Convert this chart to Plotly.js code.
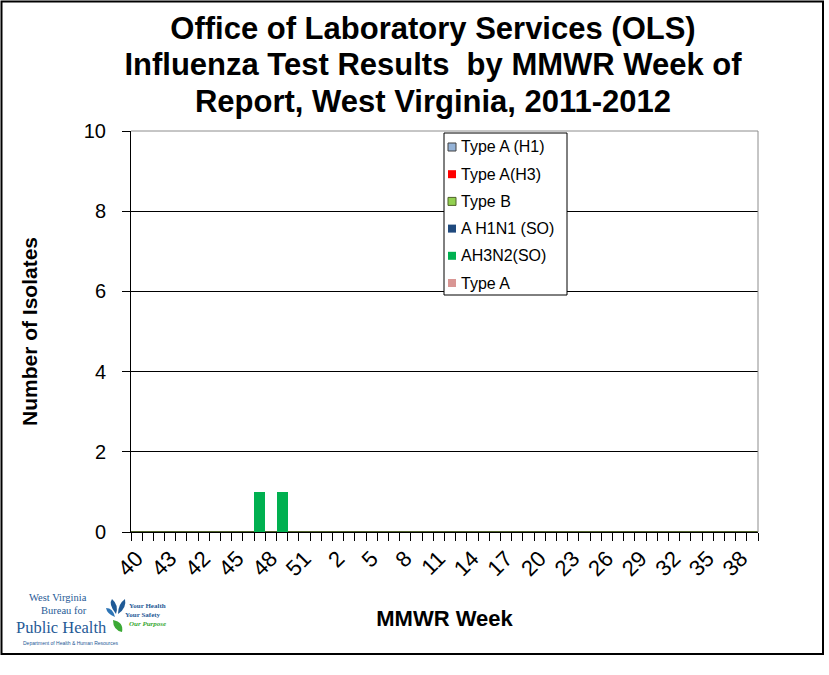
<!DOCTYPE html>
<html>
<head>
<meta charset="utf-8">
<script src="https://cdn.plot.ly/plotly-3.0.1.min.js"></script>
<style>html,body{margin:0;padding:0;background:#fff;}#chart{width:829px;height:675px;}</style>
</head>
<body>
<div id="chart"></div>
<script>
// MMWR week labels, in the order of the category axis
const weeks = [40,41,42,43,40,41,42,43,44,45,46,47,48,49,50,51,52,
  1,2,3,4,5,6,7,8,9,10,11,12,13,14,15,16,17,18,19,20,21,22,23,24,25,26,27,28,29,30,31,32,33,34,35,36,37,38,39];

const seriesNames = ["Type A (H1)", "Type A(H3)", "Type B", "A H1N1 (SO)", "AH3N2(SO)", "Type A"];

const typeA_H1 = [0,0,0,0,0,0,0,0,0,0,0,0,0,0,0,0,0,0,0,0,0,0,0,0,0,0,0,0,0,0,0,0,0,0,0,0,0,0,0,0,0,0,0,0,0,0,0,0,0,0,0,0,0,0,0,0];
const typeA_H3 = [0,0,0,0,0,0,0,0,0,0,0,0,0,0,0,0,0,0,0,0,0,0,0,0,0,0,0,0,0,0,0,0,0,0,0,0,0,0,0,0,0,0,0,0,0,0,0,0,0,0,0,0,0,0,0,0];
const typeB    = [0,0,0,0,0,0,0,0,0,0,0,0,0,0,0,0,0,0,0,0,0,0,0,0,0,0,0,0,0,0,0,0,0,0,0,0,0,0,0,0,0,0,0,0,0,0,0,0,0,0,0,0,0,0,0,0];
const aH1N1_SO = [0,0,0,0,0,0,0,0,0,0,0,0,0,0,0,0,0,0,0,0,0,0,0,0,0,0,0,0,0,0,0,0,0,0,0,0,0,0,0,0,0,0,0,0,0,0,0,0,0,0,0,0,0,0,0,0];
const aH3N2_SO = [0,0,0,0,0,0,0,0,0,0,0,1,0,1,0,0,0,0,0,0,0,0,0,0,0,0,0,0,0,0,0,0,0,0,0,0,0,0,0,0,0,0,0,0,0,0,0,0,0,0,0,0,0,0,0,0];
const typeA    = [0,0,0,0,0,0,0,0,0,0,0,0,0,0,0,0,0,0,0,0,0,0,0,0,0,0,0,0,0,0,0,0,0,0,0,0,0,0,0,0,0,0,0,0,0,0,0,0,0,0,0,0,0,0,0,0];

const seriesValues = [typeA_H1, typeA_H3, typeB, aH1N1_SO, aH3N2_SO, typeA];
const seriesColors = ["#95B3D7", "#FF0000", "#92D050", "#1F497D", "#00B050", "#D99694"];
const seriesBorders = ["#404040", null, "#4F6228", null, null, null];

const FONT = "Arial, 'Liberation Sans', sans-serif";
const SERIF = "'Liberation Serif', 'Times New Roman', serif";
const W = 829, H = 675;
const PL = 131, PR = 758, PT = 131, PB = 532;
const px = x => (x - PL) / (PR - PL);
const py = y => (PB - y) / (PB - PT);

const xIdx = weeks.map((w, i) => i);
const tickIdx = xIdx.filter(i => i % 3 === 0);
const boundaries = weeks.map((w, i) => i - 0.5).concat([weeks.length - 0.5]);

const traces = seriesNames.map((name, k) => ({
  type: "bar",
  name: name,
  x: xIdx,
  y: seriesValues[k],
  showlegend: false,
  marker: {
    color: seriesColors[k],
    line: seriesBorders[k] ? {color: seriesBorders[k], width: 1} : {width: 0}
  },
  hoverinfo: "y+name"
}));

// Legend box (drawn to match the reference's compact legend)
const LG = {x0: 444, x1: 567, y0: 133, y1: 295, first: 147, step: 27.2};
const shapes = [
  {type: "line", xref: "paper", yref: "paper", x0: 0, x1: 1, y0: 1, y1: 1, line: {color: "#8C8C8C", width: 1}, layer: "above"},
  {type: "line", xref: "paper", yref: "paper", x0: 1, x1: 1, y0: 0, y1: 1, line: {color: "#8C8C8C", width: 1}, layer: "above"},
  {type: "rect", xref: "paper", yref: "paper", x0: px(1.5), x1: px(823), y0: py(1.5), y1: py(654), line: {color: "#000", width: 2}, layer: "above"},
  {type: "rect", xref: "paper", yref: "paper", x0: px(LG.x0), x1: px(LG.x1), y0: py(LG.y0), y1: py(LG.y1), fillcolor: "#fff", line: {color: "#000", width: 1}, layer: "above"},
  // logo leaves
  {type: "path", xref: "paper", yref: "paper", layer: "above", fillcolor: "#1F5A96", line: {width: 0},
   path: `M ${px(116)} ${py(614)} Q ${px(108)} ${py(604)} ${px(112)} ${py(599)} Q ${px(119)} ${py(605)} ${px(116)} ${py(614)} Z`},
  {type: "path", xref: "paper", yref: "paper", layer: "above", fillcolor: "#1F5A96", line: {width: 0},
   path: `M ${px(118)} ${py(614)} Q ${px(118)} ${py(604)} ${px(125)} ${py(599)} Q ${px(127)} ${py(608)} ${px(118)} ${py(614)} Z`},
  {type: "path", xref: "paper", yref: "paper", layer: "above", fillcolor: "#2E75B6", line: {width: 0},
   path: `M ${px(115)} ${py(617)} Q ${px(107)} ${py(614)} ${px(106)} ${py(608)} Q ${px(113)} ${py(608)} ${px(115)} ${py(617)} Z`},
  {type: "path", xref: "paper", yref: "paper", layer: "above", fillcolor: "#3BA935", line: {width: 0},
   path: `M ${px(113)} ${py(620)} Q ${px(113)} ${py(630)} ${px(122)} ${py(632)} Q ${px(124)} ${py(622)} ${px(113)} ${py(620)} Z`}
];

const ann = (text, x, y, size, color, extra) => Object.assign({
  text: text, xref: "paper", yref: "paper", x: px(x), y: py(y),
  showarrow: false, xanchor: "left", yanchor: "middle",
  font: {family: SERIF, size: size, color: color}
}, extra || {});

const annotations = [
  ann("West Virginia", 89, 597, 10.5, "#1F5A96", {xanchor: "right"}),
  ann("Bureau for", 89, 610, 10.5, "#1F5A96", {xanchor: "right"}),
  ann("Public Health", 109, 627, 16.5, "#1F5A96", {xanchor: "right"}),
  ann("Department of Health &amp; Human Resources", 21, 643, 5, "#1F5A96", {font: {family: FONT, size: 5, color: "#1F5A96"}}),
  ann("<b>Your Health</b>", 127, 606, 7, "#1F5A96"),
  ann("<b>Your Safety</b>", 123, 615, 7, "#1F5A96"),
  ann("<b><i>Our Purpose</i></b>", 127, 624, 7, "#3BA935")
];

seriesNames.forEach((name, k) => {
  const cy = LG.first + LG.step * k;
  shapes.push({type: "rect", xref: "paper", yref: "paper", layer: "above",
    x0: px(448), x1: px(456), y0: py(cy - 4), y1: py(cy + 4),
    fillcolor: seriesColors[k], line: {color: seriesBorders[k] || seriesColors[k], width: seriesBorders[k] ? 1 : 0}});
  annotations.push({text: name, xref: "paper", yref: "paper", x: px(459), y: py(cy),
    showarrow: false, xanchor: "left", yanchor: "middle",
    font: {family: FONT, size: 16, color: "#000"}});
});

const layout = {
  width: W, height: H,
  paper_bgcolor: "#fff", plot_bgcolor: "#fff",
  margin: {l: PL, r: W - PR, t: PT, b: H - PB, pad: 0},
  font: {family: FONT, color: "#000"},
  title: {
    text: "<b><span style=\"font-size:31px\">Office of Laboratory Services (OLS)<br>Influenza Test Results  by MMWR Week of<br>Report, West Virginia, 2011-2012</span></b>",
    font: {family: FONT, size: 28, color: "#000"},
    xref: "container", x: 433 / W, xanchor: "center",
    yref: "container", y: 1 - 39 / H, yanchor: "top"
  },
  barmode: "stack",
  bargap: 0,
  showlegend: false,
  xaxis: {
    type: "linear",
    range: [-0.5, weeks.length - 0.5],
    tickmode: "array",
    tickvals: tickIdx,
    ticktext: tickIdx.map(i => String(weeks[i])),
    tickangle: -45,
    ticks: "outside", ticklen: 4, tickcolor: "rgba(0,0,0,0)",
    tickfont: {family: FONT, size: 22, color: "#000"},
    minor: {tickmode: "array", tickvals: boundaries, ticks: "outside", ticklen: 8, tickwidth: 1, tickcolor: "#000", showgrid: false},
    showline: true, linecolor: "#000", linewidth: 1,
    showgrid: false, zeroline: false,
    fixedrange: true,
    title: {text: "<b>MMWR Week</b>", font: {family: FONT, size: 22, color: "#000"}, standoff: 30}
  },
  yaxis: {
    range: [0, 10],
    tickmode: "linear", tick0: 0, dtick: 2,
    ticks: "outside", ticklen: 8, tickwidth: 1, tickcolor: "#000",
    ticklabelstandoff: 12,
    tickfont: {family: FONT, size: 20, color: "#000"},
    showline: true, linecolor: "#000", linewidth: 1,
    showgrid: true, gridcolor: "#000", gridwidth: 1,
    zeroline: false,
    fixedrange: true,
    title: {text: "<b>Number of Isolates</b>", font: {family: FONT, size: 21, color: "#000"}, standoff: 40}
  },
  shapes: shapes,
  annotations: annotations
};

Plotly.newPlot("chart", traces, layout, {displayModeBar: false});
</script>
</body>
</html>
